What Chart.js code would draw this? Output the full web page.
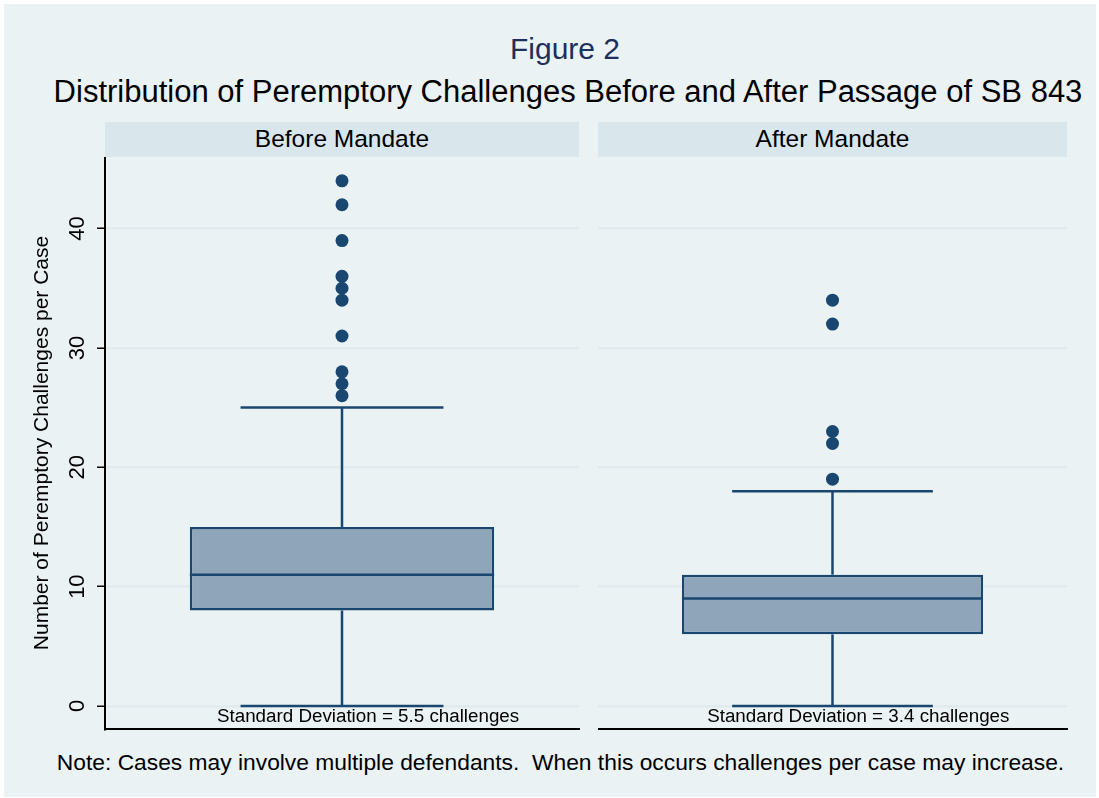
<!DOCTYPE html>
<html>
<head>
<meta charset="utf-8">
<title>Figure 2</title>
<script src="https://cdn.jsdelivr.net/npm/chart.js@4.4.1/dist/chart.umd.min.js"></script>
<style>
    body { margin: 0; background: #ffffff; font-family: "Liberation Sans", Arial, sans-serif; }
    .abs { position: absolute; }
    #frame { left: 4px; top: 4px; width: 1092px; height: 793px; background: #eaf2f3; }
    .title { left: 0; width: 1130px; text-align: center; line-height: 36px; white-space: nowrap; }
    #fig { top: 31px; font-size: 30px; color: #1e2f5a; }
    #subtitle { top: 74px; font-size: 31px; color: #000; width: 1136px; }
    .strip { top: 122px; height: 35px; line-height: 33px; background: #d9e6eb; font-size: 24.5px; text-align: center; color: #000; }
    #note { top: 749px; left: 0; width: 1121px; text-align: center; font-size: 22.8px; line-height: 27px; white-space: pre; color: #000; }
</style>
</head>
<body>
<div id="frame" class="abs"></div>
<div id="fig" class="abs title">Figure 2</div>
<div id="subtitle" class="abs title">Distribution of Peremptory Challenges Before and After Passage of SB 843</div>
<div id="strip0" class="abs strip" style="left:105px;width:474px;"></div>
<div id="strip1" class="abs strip" style="left:598px;width:469px;"></div>
<div class="abs" style="left:4px;top:157px;"><canvas id="panel0" width="576" height="580"></canvas></div>
<div class="abs" style="left:598px;top:157px;"><canvas id="panel1" width="470" height="580"></canvas></div>
<div id="note" class="abs">Note: Cases may involve multiple defendants.  When this occurs challenges per case may increase.</div>

<script>
// Data
const panels = ['Before Mandate', 'After Mandate'];
const whiskerLow = [0, 0];
const q1 = [8, 6];
const median = [11, 9];
const q3 = [15, 11];
const whiskerHigh = [25, 18];
const outliers = [
    [26, 27, 28, 31, 34, 35, 36, 39, 42, 44],
    [19, 22, 23, 32, 34]
];
const sdValues = ['5.5', '3.4'];
const yTicks = [0, 10, 20, 30, 40];

const yMin = -1.93;
const yMax = 46;
const boxHalf = 0.321;   // half box width, as share of panel width
const capHalf = 0.214;   // half whisker cap width
const navy = '#1a476f';
const boxFill = '#8ea5ba';
const family = '"Liberation Sans", Arial, sans-serif';

const sdLabelPlugin = {
    id: 'sdLabel',
    afterDatasetsDraw(chart, args, opts) {
        const ctx = chart.ctx;
        ctx.save();
        ctx.font = '18.8px ' + family;
        ctx.fillStyle = '#000';
        ctx.textAlign = 'center';
        ctx.textBaseline = 'middle';
        ctx.fillText('Standard Deviation = ' + sdValues[opts.index] + ' challenges',
            chart.scales.x2.getPixelForValue(0.555),
            chart.scales.y.getPixelForValue(-0.95));
        ctx.restore();
    }
};

function segment(x1, y1, x2, y2) {
    return {
        type: 'line',
        xAxisID: 'x2',
        data: [{ x: x1, y: y1 }, { x: x2, y: y2 }],
        borderColor: navy,
        borderWidth: 2.5,
        pointRadius: 0,
        order: 1
    };
}

function makePanel(i) {
    const showAxis = i === 0;
    document.getElementById('strip' + i).textContent = panels[i];

    const datasets = [
        {
            type: 'bar',
            data: [[q1[i], q3[i]]],
            backgroundColor: boxFill,
            borderColor: navy,
            borderWidth: 2.5,
            borderSkipped: false,
            grouped: false,
            barPercentage: boxHalf * 2,
            categoryPercentage: 1,
            order: 3
        },
        segment(0.5 - boxHalf, median[i], 0.5 + boxHalf, median[i]),
        segment(0.5, q3[i], 0.5, whiskerHigh[i]),
        segment(0.5, whiskerLow[i], 0.5, q1[i]),
        segment(0.5 - capHalf, whiskerHigh[i], 0.5 + capHalf, whiskerHigh[i]),
        segment(0.5 - capHalf, whiskerLow[i], 0.5 + capHalf, whiskerLow[i]),
        {
            type: 'line',
            xAxisID: 'x2',
            data: outliers[i].map(v => ({ x: 0.5, y: v })),
            showLine: false,
            pointRadius: 6.5,
            pointBackgroundColor: navy,
            pointBorderWidth: 0,
            order: 0
        }
    ];

    new Chart(document.getElementById('panel' + i), {
        type: 'bar',
        data: { labels: [panels[i]], datasets: datasets },
        plugins: [sdLabelPlugin],
        options: {
            responsive: false,
            animation: false,
            layout: { autoPadding: false, padding: { left: 0, right: 1, top: 0, bottom: 8 } },
            plugins: {
                legend: { display: false },
                tooltip: { enabled: false },
                sdLabel: { index: i }
            },
            scales: {
                x: {
                    afterFit: s => { s.height = 0; s.paddingLeft = 0; s.paddingRight = 0; },
                    grid: { display: false, drawTicks: false },
                    ticks: { display: false },
                    border: { display: true, color: '#000', width: 2 }
                },
                x2: {
                    type: 'linear',
                    display: false,
                    offset: false,
                    min: 0,
                    max: 1
                },
                y: {
                    min: yMin,
                    max: yMax,
                    beginAtZero: false,
                    afterBuildTicks: s => { s.ticks = yTicks.map(v => ({ value: v })); },
                    afterFit: s => {
                        s.width = showAxis ? 101 : 0;
                        s.paddingTop = 0;
                        s.paddingBottom = 0;
                    },
                    grid: {
                        color: '#e1eaee',
                        lineWidth: 2.5,
                        drawTicks: showAxis,
                        tickLength: 8,
                        tickColor: '#000',
                        tickWidth: 1.5
                    },
                    border: { display: showAxis, color: '#000', width: 2 },
                    ticks: {
                        display: showAxis,
                        minRotation: 90,
                        maxRotation: 90,
                        crossAlign: 'center',
                        padding: 7,
                        color: '#000',
                        font: { size: 22, family: family }
                    },
                    title: {
                        display: showAxis,
                        text: 'Number of Peremptory Challenges per Case',
                        color: '#000',
                        font: { size: 21, family: family },
                        padding: { top: 26, bottom: 0 }
                    }
                }
            }
        }
    });
}

makePanel(0);
makePanel(1);
</script>
</body>
</html>
